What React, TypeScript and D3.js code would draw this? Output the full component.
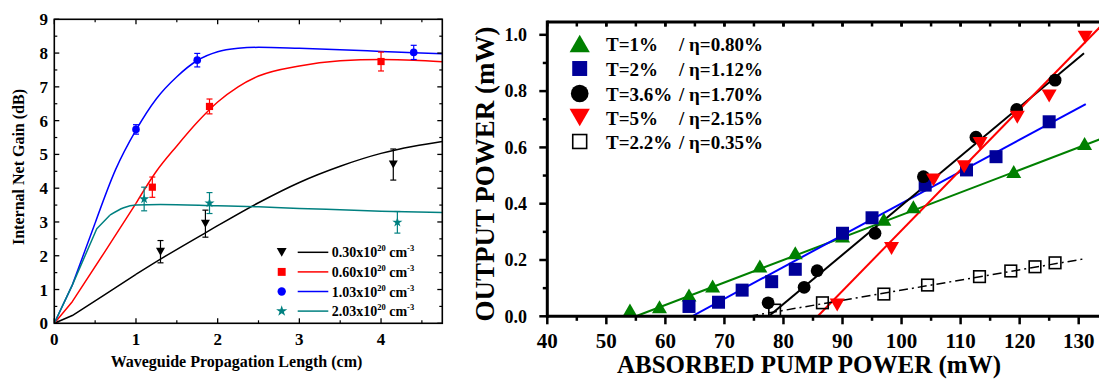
import React from "react";
import * as d3 from "d3";

const FONT = "'Liberation Serif','Times New Roman',serif";

// ---------- Left panel data ----------
const gainXTicks = [0, 1, 2, 3, 4];
const gainYTicks = [0, 1, 2, 3, 4, 5, 6, 7, 8, 9];
const conc = ["0.30", "0.60", "1.03", "2.03"];
const curve030 = [[0,0],[0.22,0.23],[0.6,0.82],[1,1.45],[1.3,1.9],[1.85,2.68],[2.5,3.57],[3,4.17],[3.5,4.65],[4,5.03],[4.4,5.24],[4.75,5.38]];
const curve060 = [[0,0],[0.22,0.64],[0.6,2.05],[1,3.55],[1.25,4.5],[1.5,5.25],[1.75,5.95],[2,6.55],[2.25,7.0],[2.5,7.32],[3,7.62],[3.5,7.77],[4,7.81],[4.4,7.79],[4.75,7.74]];
const curve103 = [[0,0],[0.22,1.13],[0.5,2.97],[0.75,4.55],[1,5.72],[1.25,6.65],[1.5,7.3],[1.75,7.78],[2,8.04],[2.25,8.14],[2.5,8.17],[3,8.14],[3.5,8.1],[4,8.05],[4.4,8.01],[4.75,7.98]];
const curve203 = [[0,0],[0.22,1.13],[0.52,2.8],[0.68,3.2],[0.85,3.42],[1.0,3.5],[1.3,3.52],[2,3.48],[2.5,3.45],[3,3.4],[3.5,3.36],[4,3.32],[4.75,3.28]];
// number of leading points joined by straight segments (sampled start of each curve)
const straightUpTo = [4, 4, 3, 4];
// [x, y, error]
const pts030 = [[1.3,2.12,0.33],[1.85,2.95,0.4],[4.15,4.7,0.46]];
const pts060 = [[1.2,4.03,0.3],[1.9,6.42,0.22],[4.0,7.75,0.28]];
const pts103 = [[1.0,5.74,0.14],[1.75,7.79,0.2],[4.4,8.02,0.21]];
const pts203 = [[1.1,3.68,0.35],[1.9,3.56,0.31],[4.2,2.99,0.32]];
const leftColors = ["#000000", "#ff0000", "#0000ff", "#008080"];

// ---------- Right panel data ----------
const pumpTicks = [40, 50, 60, 70, 80, 90, 100, 110, 120, 130];
const powerTicks = [0, 0.2, 0.4, 0.6, 0.8, 1.0];
const tLabels = ["T=1%", "T=2%", "T=3.6%", "T=5%", "T=2.2%"];
const etaLabels = ["/ η=0.80%", "/ η=1.12%", "/ η=1.70%", "/ η=2.15%", "/ η=0.35%"];
const greenX = [54, 59, 64, 68, 76, 82, 90, 97, 102, 119, 131];
const greenY = [0.022, 0.034, 0.076, 0.108, 0.179, 0.226, 0.285, 0.345, 0.389, 0.514, 0.614];
const blueX = [64, 69, 73, 78, 82, 90, 95, 104, 111, 116, 125];
const blueY = [0.035, 0.05, 0.093, 0.123, 0.167, 0.295, 0.35, 0.466, 0.52, 0.567, 0.691];
const blackX = [77.4, 83.5, 85.7, 95.5, 103.7, 112.6, 119.5, 126];
const blackY = [0.048, 0.103, 0.162, 0.295, 0.496, 0.636, 0.735, 0.839];
const redX = [89.1, 98.3, 105.4, 110.6, 113.3, 119.6, 125, 131.1];
const redY = [0.04, 0.241, 0.484, 0.531, 0.614, 0.707, 0.783, 0.991];
const openX = [78.5, 86.6, 97, 104.4, 113.2, 118.5, 122.6, 126];
const openY = [0.022, 0.048, 0.079, 0.111, 0.141, 0.161, 0.176, 0.19];
// linear fits: threshold, slope, end
const fitX0 = [55, 64.5, 77.5, 85.8, 74.2];
const fitSlope = [0.008, 0.0113, 0.0175, 0.0215, 0.0036];
const fitXEnd = [136, 131.2, 130.9, 136, 130.8];

function triPath(w: number, h: number, down: boolean) {
  const p = d3.path();
  if (down) {
    p.moveTo(-w / 2, -h / 2); p.lineTo(w / 2, -h / 2); p.lineTo(0, h / 2);
  } else {
    p.moveTo(-w / 2, h / 2); p.lineTo(w / 2, h / 2); p.lineTo(0, -h / 2);
  }
  p.closePath();
  return p.toString();
}

export default function App() {
  const xL = d3.scaleLinear().domain([0, 4.75]).range([54.3, 442.3]);
  const yL = d3.scaleLinear().domain([0, 9]).range([323.3, 19.3]);
  const lineLin = d3.line<number[]>().x(d => xL(d[0])).y(d => yL(d[1])).curve(d3.curveLinear);
  const lineSmooth = d3.line<number[]>().x(d => xL(d[0])).y(d => yL(d[1])).curve(d3.curveMonotoneX);
  const curves = [curve030, curve060, curve103, curve203];
  const pts = [pts030, pts060, pts103, pts203];
  const xMinorL = d3.range(0.5, 4.75, 1);
  const yMinorL = d3.range(0.5, 9, 1);

  const markerL = (i: number, s: number) => {
    if (i === 0) return <path d={triPath(9 * s, 8 * s, true)} fill={leftColors[0]} />;
    if (i === 1) return <rect x={-3.6 * s} y={-3.6 * s} width={7.2 * s} height={7.2 * s} fill={leftColors[1]} />;
    if (i === 2) return <circle r={3.8 * s} fill={leftColors[2]} />;
    return <path d={d3.symbol(d3.symbolStar, 32 * s * s)() as string} fill={leftColors[3]} />;
  };

  const xR = d3.scaleLinear().domain([40, 133.44]).range([547.3, 1099]);
  const yR = d3.scaleLinear().domain([0, 1.0455]).range([316.3, 22]);
  const xMinorR = d3.range(45, 134, 10);
  const yMinorR = d3.range(0.1, 1.0, 0.2);
  const topTicksR = d3.range(45, 134, 5);
  const fitColors = ["#008000", "#0000ff", "#000000", "#ff0000", "#000000"];

  const fitLine = (k: number) => {
    const xs = [fitX0[k], fitXEnd[k]];
    const g = d3.line<number>().x(d => xR(d)).y(d => yR(fitSlope[k] * (d - fitX0[k])));
    return g(xs) as string;
  };

  const markerR = (k: number, s: number) => {
    if (k === 0) return <path d={triPath(15 * s, 13 * s, false)} fill="#008000" />;
    if (k === 1) return <rect x={-6.5 * s} y={-6.5 * s} width={13 * s} height={13 * s} fill="#000099" />;
    if (k === 2) return <circle r={6.4 * s} fill="#000000" />;
    if (k === 3) return <path d={triPath(15 * s, 13 * s, true)} fill="#ff0000" />;
    return <rect x={-5.8 * s} y={-5.8 * s} width={11.6 * s} height={11.6 * s} fill="none" stroke="#000" strokeWidth={1.6} />;
  };
  const seriesR: [number[], number[]][] = [
    [greenX, greenY], [blueX, blueY], [blackX, blackY], [redX, redY], [openX, openY],
  ];
  const legendBaselines = [51, 76, 101, 125, 149];
  const legendScale = [1.35, 1.15, 1.38, 1.35, 1.2];

  return (
    <div style={{ position: "absolute", left: 0, top: 0 }}>
      <svg width={1099} height={379} style={{ display: "block", background: "#fff" }} fontFamily={FONT}>
        <defs>
          <clipPath id="clipR">
            <rect x={xR(40)} y={yR(1.0455)} width={1099 - xR(40)} height={yR(0) - yR(1.0455)} />
          </clipPath>
          <clipPath id="clipL">
            <rect x={xL(0)} y={yL(9)} width={xL(4.75) - xL(0)} height={yL(0) - yL(9)} />
          </clipPath>
        </defs>

        {/* ================= LEFT PANEL ================= */}
        <g>
          <g clipPath="url(#clipL)">
            {curves.map((c, i) => {
              const n = straightUpTo[i];
              const head = c.slice(0, n);
              const tail = c.slice(n - 1);
              return (
                <g key={i}>
                  <path d={lineLin(head) as string} fill="none" stroke={leftColors[i]} strokeWidth={1.5} strokeLinejoin="round" />
                  <path d={lineSmooth(tail) as string} fill="none" stroke={leftColors[i]} strokeWidth={1.5} />
                </g>
              );
            })}
          </g>
          {pts.map((ps, i) => (
            <g key={i}>
              {ps.map((p, j) => (
                <g key={j}>
                  <line x1={xL(p[0])} x2={xL(p[0])} y1={yL(p[1] - p[2])} y2={yL(p[1] + p[2])} stroke={leftColors[i]} strokeWidth={1.2} />
                  <line x1={xL(p[0]) - 3} x2={xL(p[0]) + 3} y1={yL(p[1] + p[2])} y2={yL(p[1] + p[2])} stroke={leftColors[i]} strokeWidth={1.2} />
                  <line x1={xL(p[0]) - 3} x2={xL(p[0]) + 3} y1={yL(p[1] - p[2])} y2={yL(p[1] - p[2])} stroke={leftColors[i]} strokeWidth={1.2} />
                  <g transform={`translate(${xL(p[0])},${yL(p[1])})`}>{markerL(i, 1)}</g>
                </g>
              ))}
            </g>
          ))}
          <rect x={xL(0)} y={yL(9)} width={xL(4.75) - xL(0)} height={yL(0) - yL(9)} fill="none" stroke="#000" strokeWidth={1.6} />
          {gainXTicks.map(t => (
            <g key={"xt" + t}>
              <line x1={xL(t)} x2={xL(t)} y1={yL(0)} y2={yL(0) - 5} stroke="#000" strokeWidth={1.3} />
              <line x1={xL(t)} x2={xL(t)} y1={yL(9)} y2={yL(9) + 5} stroke="#000" strokeWidth={1.3} />
              <text x={xL(t)} y={345} textAnchor="middle" fontSize={17} fontWeight="bold">{t}</text>
            </g>
          ))}
          {xMinorL.map(t => (
            <g key={"xm" + t}>
              <line x1={xL(t)} x2={xL(t)} y1={yL(0)} y2={yL(0) - 3} stroke="#000" strokeWidth={1.2} />
              <line x1={xL(t)} x2={xL(t)} y1={yL(9)} y2={yL(9) + 3} stroke="#000" strokeWidth={1.2} />
            </g>
          ))}
          {gainYTicks.map(t => (
            <g key={"yt" + t}>
              <line x1={xL(0)} x2={xL(0) + 5} y1={yL(t)} y2={yL(t)} stroke="#000" strokeWidth={1.3} />
              <line x1={xL(4.75)} x2={xL(4.75) - 5} y1={yL(t)} y2={yL(t)} stroke="#000" strokeWidth={1.3} />
              <text x={48} y={yL(t) + 6} textAnchor="end" fontSize={17} fontWeight="bold">{t}</text>
            </g>
          ))}
          {yMinorL.map(t => (
            <g key={"ym" + t}>
              <line x1={xL(0)} x2={xL(0) + 3} y1={yL(t)} y2={yL(t)} stroke="#000" strokeWidth={1.2} />
              <line x1={xL(4.75)} x2={xL(4.75) - 3} y1={yL(t)} y2={yL(t)} stroke="#000" strokeWidth={1.2} />
            </g>
          ))}
          <text transform="translate(24,167) rotate(-90)" textAnchor="middle" fontSize={16} fontWeight="bold">Internal Net Gain (dB)</text>
          <text x={236.5} y={367} textAnchor="middle" fontSize={16} fontWeight="bold">Waveguide Propagation Length (cm)</text>
          {conc.map((c, i) => {
            const yy = 252.3 + i * 19.6;
            return (
              <g key={"lg" + i}>
                <g transform={`translate(281.7,${yy})`}>{markerL(i, 1.1)}</g>
                <line x1={297.7} x2={328.3} y1={yy} y2={yy} stroke={leftColors[i]} strokeWidth={1.5} />
                <text x={331.7} y={yy + 5} fontSize={14} fontWeight="bold">
                  {c}x10<tspan dy={-6} fontSize={8.5}>20</tspan><tspan dy={6}> cm</tspan><tspan dy={-6} fontSize={8.5}>-3</tspan>
                </text>
              </g>
            );
          })}
        </g>

        {/* ================= RIGHT PANEL ================= */}
        <g>
          <g clipPath="url(#clipR)">
            {fitX0.map((_, k) => (
              <path key={"fit" + k} d={fitLine(k)} fill="none" stroke={fitColors[k]} strokeWidth={k === 4 ? 1.5 : 2}
                strokeDasharray={k === 4 ? "9,4,2,4" : undefined} />
            ))}
            {seriesR.map(([xs, ys], k) => (
              <g key={"s" + k}>
                {xs.map((x, j) => (
                  <g key={j} transform={`translate(${xR(x)},${yR(ys[j])})`}>{markerR(k, 1)}</g>
                ))}
              </g>
            ))}
          </g>
          <line x1={xR(40)} x2={1099} y1={yR(0)} y2={yR(0)} stroke="#000" strokeWidth={3} />
          <line x1={xR(40)} x2={1099} y1={yR(1.0455)} y2={yR(1.0455)} stroke="#000" strokeWidth={3} />
          <line x1={xR(40)} x2={xR(40)} y1={yR(1.0455) - 1.5} y2={yR(0) + 1.5} stroke="#000" strokeWidth={3} />
          {pumpTicks.map(t => (
            <g key={"px" + t}>
              <line x1={xR(t)} x2={xR(t)} y1={yR(0)} y2={yR(0) + 8} stroke="#000" strokeWidth={2.5} />
              <line x1={xR(t)} x2={xR(t)} y1={yR(1.0455)} y2={yR(1.0455) + 4.5} stroke="#000" strokeWidth={2.5} />
              <text x={xR(t)} y={348} textAnchor="middle" fontSize={21} fontWeight="bold">{t}</text>
            </g>
          ))}
          {xMinorR.map(t => (
            <line key={"pm" + t} x1={xR(t)} x2={xR(t)} y1={yR(0)} y2={yR(0) + 4.5} stroke="#000" strokeWidth={2.5} />
          ))}
          {topTicksR.map(t => (
            <line key={"tt" + t} x1={xR(t)} x2={xR(t)} y1={yR(1.0455)} y2={yR(1.0455) + 4.5} stroke="#000" strokeWidth={2.5} />
          ))}
          {powerTicks.map(t => (
            <g key={"py" + t}>
              <line x1={xR(40)} x2={xR(40) - 8} y1={yR(t)} y2={yR(t)} stroke="#000" strokeWidth={2.5} />
              <text x={527} y={yR(t) + 6.3} textAnchor="end" fontSize={18} fontWeight="bold">{t.toFixed(1)}</text>
            </g>
          ))}
          {yMinorR.map(t => (
            <line key={"pym" + t} x1={xR(40)} x2={xR(40) - 4.5} y1={yR(t)} y2={yR(t)} stroke="#000" strokeWidth={2.5} />
          ))}
          <text transform="translate(494,174) rotate(-90)" textAnchor="middle" fontSize={27} fontWeight="bold">OUTPUT POWER (mW)</text>
          <text x={809} y={373} textAnchor="middle" fontSize={25} fontWeight="bold">ABSORBED PUMP POWER (mW)</text>
          {tLabels.map((lab, k) => (
            <g key={"rl" + k}>
              <g transform={`translate(579.7,${legendBaselines[k] - 7.5})`}>{markerR(k, legendScale[k])}</g>
              <text x={606} y={legendBaselines[k]} fontSize={19} fontWeight="bold">{lab}</text>
              <text x={679} y={legendBaselines[k]} fontSize={19} fontWeight="bold">{etaLabels[k]}</text>
            </g>
          ))}
        </g>
      </svg>
    </div>
  );
}
